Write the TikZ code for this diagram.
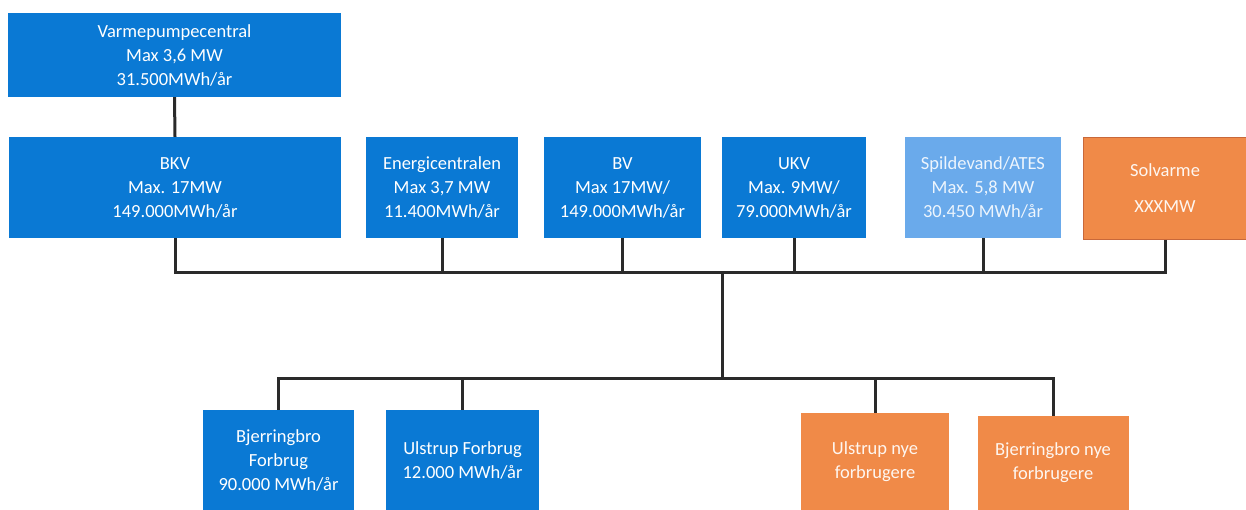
\documentclass[tikz,border=0pt]{standalone}
\usepackage{fontspec}
\setmainfont{Carlito}
\definecolor{bblue}{HTML}{0A79D4}
\definecolor{lblue}{HTML}{6AAAEB}
\definecolor{orng}{HTML}{F08A48}
\definecolor{orngd}{HTML}{C8683A}
\definecolor{wire}{HTML}{2A2A2A}
\begin{document}
\begin{tikzpicture}[x=1pt,y=-1pt,
  box/.style={rectangle, inner sep=0pt, align=center, text=white,
    font=\fontsize{18.5}{24}\selectfont},
  bluebox/.style={box, fill=bblue},
  lightbox/.style={box, fill=lblue, text=white!88!lblue},
  orangebox/.style={box, fill=orng, text=white!92!orng},
  wirestyle/.style={draw=wire, line width=3pt}]
\useasboundingbox (0,0) rectangle (1246,510);
\fill[white] (0,0) rectangle (1246,510);
% top row
\node[bluebox, minimum width=333, minimum height=84] (vp) at (174.5,55)
  {Varmepumpecentral\\Max 3,6 MW\\31.500MWh/år};
\node[bluebox, minimum width=332, minimum height=101] (bkv) at (175,187.5)
  {BKV\\Max. 17MW\\149.000MWh/år};
\node[bluebox, minimum width=152, minimum height=101] (ec) at (442,187.5)
  {Energicentralen\\Max 3,7 MW\\11.400MWh/år};
\node[bluebox, minimum width=157, minimum height=101] (bv) at (622.5,187.5)
  {BV\\Max 17MW/\\149.000MWh/år};
\node[bluebox, minimum width=144, minimum height=101] (ukv) at (794,187.5)
  {UKV\\Max. 9MW/\\79.000MWh/år};
\node[lightbox, minimum width=156, minimum height=101] (sp) at (983,187.5)
  {Spildevand/ATES\\Max. 5,8 MW\\30.450 MWh/år};
\node[orangebox, draw=orngd, line width=0.8pt, minimum width=163, minimum height=102] (sol) at (1165,188.5)
  {Solvarme\\[12pt]XXXMW};
% bottom row
\node[bluebox, minimum width=151, minimum height=100] (bjf) at (278.5,460)
  {Bjerringbro\\Forbrug\\90.000 MWh/år};
\node[bluebox, minimum width=153, minimum height=100] (ulf) at (462.5,460)
  {Ulstrup Forbrug\\12.000 MWh/år};
\node[orangebox, minimum width=148, minimum height=97] (uln) at (875,461.5)
  {Ulstrup nye\\forbrugere};
\node[orangebox, minimum width=151, minimum height=94] (bjn) at (1053,463)
  {Bjerringbro nye\\forbrugere};
% bus coordinates
\coordinate (busL) at (175,273);
\coordinate (busR) at (1165,273);
\coordinate (trunkTop) at (722,273);
\coordinate (lowL) at (278.5,378);
\coordinate (lowR) at (1053,378);
\coordinate (trunkBot) at (722,378);
% connectors
\draw[wirestyle] (vp.south) -- (bkv.north);
\draw[wirestyle, line join=miter] (bkv.south) |- (busR) -- (sol.south);
\draw[wirestyle] (ec.south) -- (ec.south |- busL);
\draw[wirestyle] (bv.south) -- (bv.south |- busL);
\draw[wirestyle] (ukv.south) -- (ukv.south |- busL);
\draw[wirestyle] (sp.south) -- (sp.south |- busL);
\draw[wirestyle] (trunkTop) -- (trunkBot);
\draw[wirestyle, line join=miter] (bjf.north) |- (lowR) -- (bjn.north);
\draw[wirestyle] (ulf.north) -- (ulf.north |- lowL);
\draw[wirestyle] (uln.north) -- (uln.north |- lowL);
\end{tikzpicture}
\end{document}
